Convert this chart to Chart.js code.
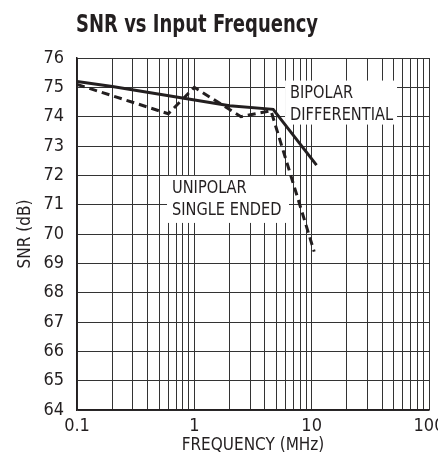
<!DOCTYPE html>
<html>
<head>
<meta charset="utf-8">
<script src="https://cdn.jsdelivr.net/npm/chart.js@4/dist/chart.umd.min.js"></script>
<style>
  html, body { margin: 0; padding: 0; background: #fff; overflow: hidden; }
  #wrap { width: 438px; height: 461px; }
</style>
</head>
<body>
<div id="wrap"><canvas id="snr" width="438" height="461"></canvas></div>
<script>
// data
const bipolarFreq = [0.1, 0.2, 2, 4.7, 11];
const bipolarSnr = [75.2, 75.03, 74.37, 74.25, 72.35];
const unipolarFreq = [0.1, 0.6, 1, 2.5, 4.5, 10.5];
const unipolarSnr = [75.1, 74.1, 75.0, 74.0, 74.2, 69.4];

const xTickLabels = [0.1, 1, 10, 100];
const yMin = 64, yMax = 76;
const chartTitle = "SNR vs Input Frequency";

// curve labels, anchored at their box top-left corner (data units)
const curveLabels = [
    { lines: ["BIPOLAR", "DIFFERENTIAL"], freq: 5.93, snr: 75.23, w: 112, h: 44 },
    { lines: ["UNIPOLAR", "SINGLE ENDED"], freq: 0.585, snr: 71.98, w: 122, h: 47 }
];

const FONT = "'Liberation Sans Narrow', 'DejaVu Sans Condensed', 'Arial Narrow', sans-serif";
const INK = "#231f20";

// log grid: 1..9 in each decade
let xGrid = [];
for (let d = 0.1; d < 50; d *= 10) {
    for (let m = 1; m <= 9; m++) {
        xGrid.push(Number((d * m).toPrecision(6)));
    }
}
xGrid.push(100);

const toPoints = (xs, ys) => xs.map((x, i) => ({ x: x, y: ys[i] }));

// white label boxes over the grid, under the curves
const labelBoxes = {
    id: "labelBoxes",
    beforeDatasetsDraw(chart) {
        const ctx = chart.ctx;
        const xs = chart.scales.x, ys = chart.scales.y;
        ctx.save();
        for (let lab of curveLabels) {
            const left = xs.getPixelForValue(lab.freq);
            const top = ys.getPixelForValue(lab.snr);
            ctx.fillStyle = "#fff";
            ctx.fillRect(left, top, lab.w, lab.h);
            ctx.fillStyle = INK;
            ctx.font = "18px " + FONT;
            ctx.textBaseline = "alphabetic";
            ctx.textAlign = "left";
            lab.lines.forEach((line, i) => {
                ctx.save();
                ctx.translate(left + 5, top + 17.5 + i * 21.5);
                ctx.scale(0.9, 1);
                ctx.fillText(line, 0, 0);
                ctx.restore();
            });
        }
        ctx.restore();
    }
};

// condensed bold heading above the plot
const heading = {
    id: "heading",
    afterDraw(chart) {
        const ctx = chart.ctx;
        ctx.save();
        ctx.fillStyle = INK;
        ctx.font = "bold 25px " + FONT;
        ctx.textBaseline = "alphabetic";
        ctx.textAlign = "left";
        ctx.translate(chart.chartArea.left - 1, 31.5);
        ctx.scale(0.8, 1);
        ctx.fillText(chartTitle, 0, 0);
        ctx.restore();
    }
};

new Chart(document.getElementById("snr"), {
    type: "line",
    data: {
        datasets: [{
            label: "BIPOLAR DIFFERENTIAL",
            data: toPoints(bipolarFreq, bipolarSnr),
            borderColor: INK,
            borderWidth: 3,
            pointRadius: 0,
            tension: 0,
            fill: false
        }, {
            label: "UNIPOLAR SINGLE ENDED",
            data: toPoints(unipolarFreq, unipolarSnr),
            borderColor: INK,
            borderWidth: 3,
            borderDash: [8, 5],
            pointRadius: 0,
            tension: 0,
            fill: false
        }]
    },
    options: {
        responsive: false,
        animation: false,
        devicePixelRatio: 1,
        layout: { padding: { left: 0, right: 9, top: 58, bottom: 0 } },
        plugins: {
            legend: { display: false },
            tooltip: { enabled: false },
            title: { display: false }
        },
        scales: {
            x: {
                type: "logarithmic",
                min: 0.1,
                max: 100,
                afterBuildTicks: (scale) => {
                    scale.ticks = xGrid.map(v => ({ value: v }));
                },
                afterFit: (scale) => {
                    scale.height = 51;
                    scale.paddingLeft = 0;
                    scale.paddingRight = 0;
                },
                ticks: {
                    autoSkip: false,
                    maxRotation: 0,
                    padding: 6,
                    color: INK,
                    font: { family: FONT, size: 18 },
                    callback: (value) => {
                        let hit = xTickLabels.find(t => Math.abs(t - value) < 1e-9);
                        return hit === undefined ? "" : String(hit);
                    }
                },
                grid: { color: "#333", lineWidth: 1, drawTicks: false },
                border: { color: INK, width: 1.5 },
                title: {
                    display: true,
                    text: "FREQUENCY (MHz)",
                    color: INK,
                    font: { family: FONT, size: 17 },
                    padding: { top: 0, bottom: 5 }
                }
            },
            y: {
                min: yMin,
                max: yMax,
                afterFit: (scale) => {
                    scale.width = 77;
                },
                ticks: {
                    stepSize: 1,
                    autoSkip: false,
                    padding: 13,
                    color: INK,
                    font: { family: FONT, size: 18 }
                },
                grid: { color: "#333", lineWidth: 1, drawTicks: false },
                border: { color: INK, width: 1.5 },
                title: {
                    display: true,
                    text: "SNR (dB)",
                    color: INK,
                    font: { family: FONT, size: 17 },
                    padding: { top: 15, bottom: 0 }
                }
            }
        }
    },
    plugins: [labelBoxes, heading]
});
</script>
</body>
</html>
